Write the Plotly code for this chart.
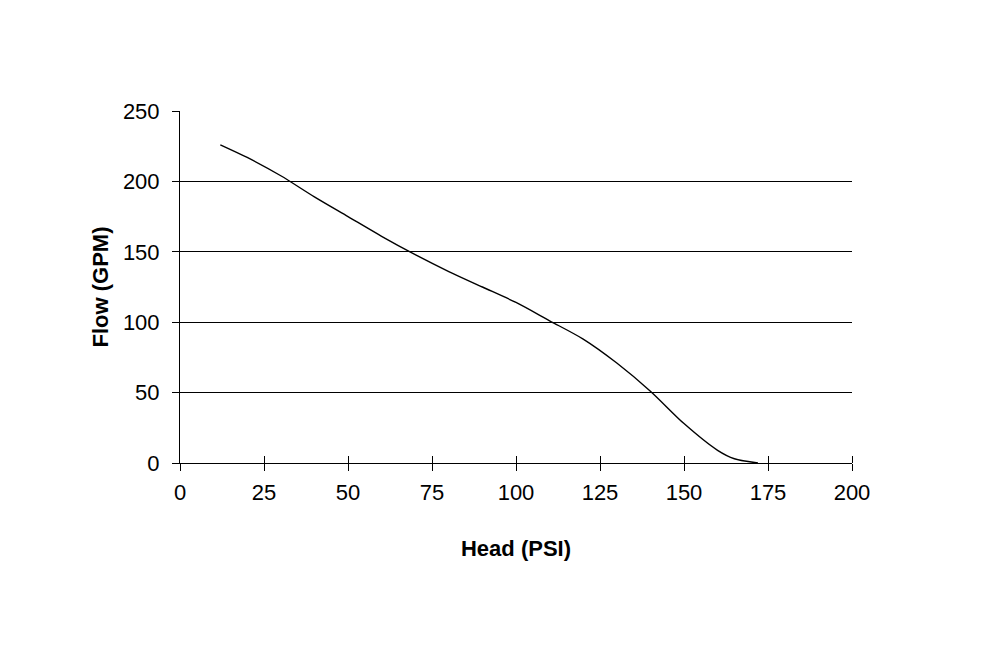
import plotly.graph_objects as go

# pump curve
head = [12, 20, 30, 40, 50, 60, 70, 80, 90, 100, 110, 120, 130, 140, 150, 160, 165, 172]
flow = [226, 217, 204, 189, 175, 161, 148, 136, 125, 114, 101, 88, 71, 51, 28, 9, 3, 0]

x_ticks = [0, 25, 50, 75, 100, 125, 150, 175, 200]
y_ticks = [0, 50, 100, 150, 200, 250]

font = "Liberation Sans, Arial, sans-serif"

fig = go.Figure()
fig.add_trace(go.Scatter(x=head, y=flow, mode="lines",
                         line=dict(color="black", width=1.4, shape="spline", smoothing=0.8),
                         hoverinfo="skip", showlegend=False))

fig.update_layout(
    width=992, height=648,
    margin=dict(l=172, r=148, t=103, b=193),
    paper_bgcolor="white", plot_bgcolor="white",
    font=dict(family=font, size=22, color="black"),
    xaxis=dict(range=[0, 200], tickvals=x_ticks, ticks="outside", ticklen=7,
               tickcolor="black", tickwidth=1, showline=True, linecolor="black",
               linewidth=1, showgrid=False, zeroline=False, ticklabelstandoff=3,
               # minor ticks on the same values, drawn inside -> crossing tick marks
               minor=dict(tickvals=x_ticks[1:], ticks="inside", ticklen=7,
                          tickcolor="black", tickwidth=1, showgrid=False),
               title=dict(text="<b>Head (PSI)</b>", standoff=36, font=dict(size=22))),
    yaxis=dict(range=[0, 250], tickvals=y_ticks, ticks="outside", ticklen=7,
               tickcolor="black", tickwidth=1, showline=True, linecolor="black",
               linewidth=1, showgrid=True, gridcolor="black", gridwidth=1,
               zeroline=False, ticklabelstandoff=8,
               title=dict(text="<b>Flow (GPM)</b>", standoff=8, font=dict(size=22))),
)

fig.write_html("out.html")
